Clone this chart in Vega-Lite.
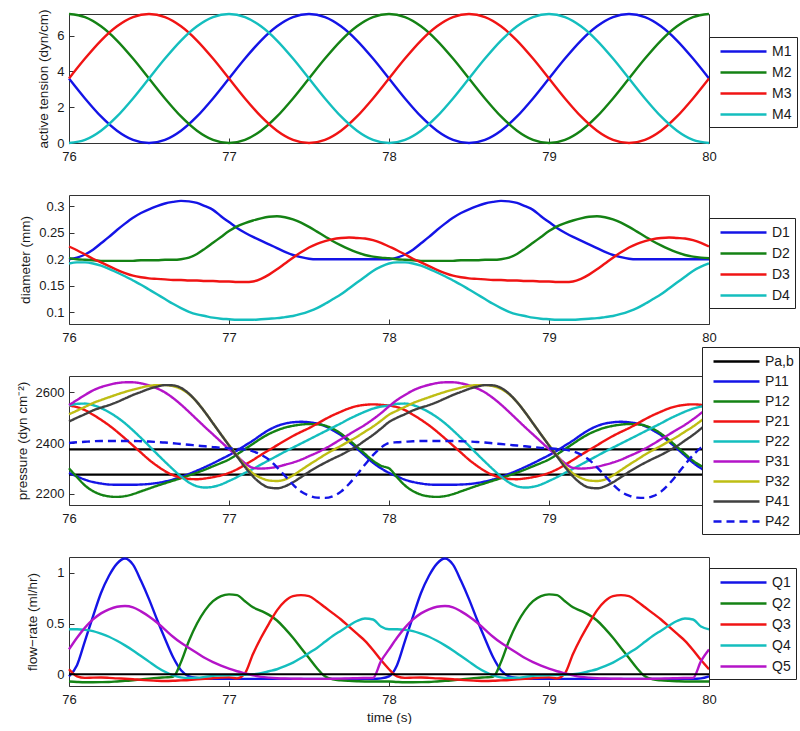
{
"$schema": "https://vega.github.io/schema/vega-lite/v6.json",
"padding": {"left": 14, "top": 8, "right": 0, "bottom": 0},
"background": "white",
"config": {
 "font": "Liberation Sans",
 "view": {"stroke": "#333", "strokeWidth": 1},
 "axis": {"grid": false, "domain": false, "tickSize": -5, "tickColor": "#333", "tickWidth": 1, "labelFontSize": 13, "titleFontSize": 13.5, "labelColor": "#1a1a1a", "titleColor": "#1a1a1a", "titleFontWeight": "normal", "labelFlush": false, "labelOverlap": false},
 "axisX": {"labelPadding": 12, "titlePadding": 4},
 "axisY": {"labelPadding": 10, "titlePadding": 6},
 "legend": {"orient": "none", "symbolType": "M-2.875,0H2.875", "symbolSize": 256, "symbolStrokeWidth": 2.4, "labelFontSize": 14, "labelColor": "#1a1a1a", "strokeColor": "#222", "fillColor": "white", "padding": 5, "rowPadding": 4, "symbolOffset": 20, "labelOffset": 19},
 "line": {"strokeWidth": 2.4, "interpolate": "monotone"}
},
"datasets": {
 "tension": [
{"t":76.0,"M1":3.6,"M2":7.2,"M3":3.6,"M4":0},
{"t":76.1,"M1":2.488,"M2":7.024,"M3":4.712,"M4":0.176},
{"t":76.2,"M1":1.483,"M2":6.512,"M3":5.717,"M4":0.688},
{"t":76.3,"M1":0.688,"M2":5.717,"M3":6.512,"M4":1.483},
{"t":76.4,"M1":0.176,"M2":4.712,"M3":7.024,"M4":2.488},
{"t":76.5,"M1":0,"M2":3.6,"M3":7.2,"M4":3.6},
{"t":76.6,"M1":0.176,"M2":2.488,"M3":7.024,"M4":4.712},
{"t":76.7,"M1":0.688,"M2":1.483,"M3":6.512,"M4":5.717},
{"t":76.8,"M1":1.483,"M2":0.688,"M3":5.717,"M4":6.512},
{"t":76.9,"M1":2.488,"M2":0.176,"M3":4.712,"M4":7.024},
{"t":77.0,"M1":3.6,"M2":0,"M3":3.6,"M4":7.2},
{"t":77.1,"M1":4.712,"M2":0.176,"M3":2.488,"M4":7.024},
{"t":77.2,"M1":5.717,"M2":0.688,"M3":1.483,"M4":6.512},
{"t":77.3,"M1":6.512,"M2":1.483,"M3":0.688,"M4":5.717},
{"t":77.4,"M1":7.024,"M2":2.488,"M3":0.176,"M4":4.712},
{"t":77.5,"M1":7.2,"M2":3.6,"M3":0,"M4":3.6},
{"t":77.6,"M1":7.024,"M2":4.712,"M3":0.176,"M4":2.488},
{"t":77.7,"M1":6.512,"M2":5.717,"M3":0.688,"M4":1.483},
{"t":77.8,"M1":5.717,"M2":6.512,"M3":1.483,"M4":0.688},
{"t":77.9,"M1":4.712,"M2":7.024,"M3":2.488,"M4":0.176},
{"t":78.0,"M1":3.6,"M2":7.2,"M3":3.6,"M4":0},
{"t":78.1,"M1":2.488,"M2":7.024,"M3":4.712,"M4":0.176},
{"t":78.2,"M1":1.483,"M2":6.512,"M3":5.717,"M4":0.688},
{"t":78.3,"M1":0.688,"M2":5.717,"M3":6.512,"M4":1.483},
{"t":78.4,"M1":0.176,"M2":4.712,"M3":7.024,"M4":2.488},
{"t":78.5,"M1":0,"M2":3.6,"M3":7.2,"M4":3.6},
{"t":78.6,"M1":0.176,"M2":2.488,"M3":7.024,"M4":4.712},
{"t":78.7,"M1":0.688,"M2":1.483,"M3":6.512,"M4":5.717},
{"t":78.8,"M1":1.483,"M2":0.688,"M3":5.717,"M4":6.512},
{"t":78.9,"M1":2.488,"M2":0.176,"M3":4.712,"M4":7.024},
{"t":79.0,"M1":3.6,"M2":0,"M3":3.6,"M4":7.2},
{"t":79.1,"M1":4.712,"M2":0.176,"M3":2.488,"M4":7.024},
{"t":79.2,"M1":5.717,"M2":0.688,"M3":1.483,"M4":6.512},
{"t":79.3,"M1":6.512,"M2":1.483,"M3":0.688,"M4":5.717},
{"t":79.4,"M1":7.024,"M2":2.488,"M3":0.176,"M4":4.712},
{"t":79.5,"M1":7.2,"M2":3.6,"M3":0,"M4":3.6},
{"t":79.6,"M1":7.024,"M2":4.712,"M3":0.176,"M4":2.488},
{"t":79.7,"M1":6.512,"M2":5.717,"M3":0.688,"M4":1.483},
{"t":79.8,"M1":5.717,"M2":6.512,"M3":1.483,"M4":0.688},
{"t":79.9,"M1":4.712,"M2":7.024,"M3":2.488,"M4":0.176},
{"t":80.0,"M1":3.6,"M2":7.2,"M3":3.6,"M4":0}
 ],
 "diam": [
{"t":76.00,"D1":0.200,"D2":0.202,"D3":0.224,"D4":0.192},
{"t":76.05,"D1":0.203,"D2":0.200,"D3":0.217,"D4":0.194},
{"t":76.10,"D1":0.209,"D2":0.199,"D3":0.209,"D4":0.194},
{"t":76.15,"D1":0.218,"D2":0.198,"D3":0.201,"D4":0.192},
{"t":76.20,"D1":0.230,"D2":0.197,"D3":0.194,"D4":0.188},
{"t":76.25,"D1":0.242,"D2":0.197,"D3":0.187,"D4":0.182},
{"t":76.30,"D1":0.255,"D2":0.197,"D3":0.180,"D4":0.175},
{"t":76.35,"D1":0.267,"D2":0.197,"D3":0.174,"D4":0.168},
{"t":76.40,"D1":0.278,"D2":0.197,"D3":0.169,"D4":0.160},
{"t":76.45,"D1":0.287,"D2":0.198,"D3":0.166,"D4":0.152},
{"t":76.50,"D1":0.294,"D2":0.198,"D3":0.164,"D4":0.143},
{"t":76.55,"D1":0.300,"D2":0.198,"D3":0.163,"D4":0.134},
{"t":76.60,"D1":0.305,"D2":0.199,"D3":0.162,"D4":0.125},
{"t":76.65,"D1":0.308,"D2":0.199,"D3":0.161,"D4":0.116},
{"t":76.70,"D1":0.310,"D2":0.200,"D3":0.161,"D4":0.108},
{"t":76.75,"D1":0.309,"D2":0.203,"D3":0.160,"D4":0.101},
{"t":76.80,"D1":0.306,"D2":0.210,"D3":0.160,"D4":0.096},
{"t":76.85,"D1":0.300,"D2":0.220,"D3":0.159,"D4":0.093},
{"t":76.90,"D1":0.293,"D2":0.231,"D3":0.159,"D4":0.090},
{"t":76.95,"D1":0.281,"D2":0.242,"D3":0.158,"D4":0.088},
{"t":77.00,"D1":0.270,"D2":0.253,"D3":0.158,"D4":0.087},
{"t":77.05,"D1":0.259,"D2":0.262,"D3":0.157,"D4":0.086},
{"t":77.10,"D1":0.250,"D2":0.268,"D3":0.157,"D4":0.086},
{"t":77.15,"D1":0.242,"D2":0.273,"D3":0.158,"D4":0.086},
{"t":77.20,"D1":0.235,"D2":0.277,"D3":0.163,"D4":0.087},
{"t":77.25,"D1":0.228,"D2":0.280,"D3":0.171,"D4":0.088},
{"t":77.30,"D1":0.221,"D2":0.281,"D3":0.181,"D4":0.089},
{"t":77.35,"D1":0.214,"D2":0.279,"D3":0.192,"D4":0.091},
{"t":77.40,"D1":0.208,"D2":0.275,"D3":0.203,"D4":0.093},
{"t":77.45,"D1":0.204,"D2":0.269,"D3":0.213,"D4":0.097},
{"t":77.50,"D1":0.201,"D2":0.261,"D3":0.222,"D4":0.102},
{"t":77.55,"D1":0.200,"D2":0.252,"D3":0.229,"D4":0.108},
{"t":77.60,"D1":0.200,"D2":0.243,"D3":0.234,"D4":0.116},
{"t":77.65,"D1":0.200,"D2":0.234,"D3":0.238,"D4":0.125},
{"t":77.70,"D1":0.200,"D2":0.226,"D3":0.240,"D4":0.134},
{"t":77.75,"D1":0.200,"D2":0.219,"D3":0.241,"D4":0.145},
{"t":77.80,"D1":0.200,"D2":0.213,"D3":0.240,"D4":0.156},
{"t":77.85,"D1":0.200,"D2":0.208,"D3":0.239,"D4":0.167},
{"t":77.90,"D1":0.200,"D2":0.205,"D3":0.236,"D4":0.178},
{"t":77.95,"D1":0.200,"D2":0.203,"D3":0.231,"D4":0.186},
{"t":78.00,"D1":0.200,"D2":0.202,"D3":0.224,"D4":0.192},
{"t":78.05,"D1":0.203,"D2":0.200,"D3":0.217,"D4":0.194},
{"t":78.10,"D1":0.209,"D2":0.199,"D3":0.209,"D4":0.194},
{"t":78.15,"D1":0.218,"D2":0.198,"D3":0.201,"D4":0.192},
{"t":78.20,"D1":0.230,"D2":0.197,"D3":0.194,"D4":0.188},
{"t":78.25,"D1":0.242,"D2":0.197,"D3":0.187,"D4":0.182},
{"t":78.30,"D1":0.255,"D2":0.197,"D3":0.180,"D4":0.175},
{"t":78.35,"D1":0.267,"D2":0.197,"D3":0.174,"D4":0.168},
{"t":78.40,"D1":0.278,"D2":0.197,"D3":0.169,"D4":0.160},
{"t":78.45,"D1":0.287,"D2":0.198,"D3":0.166,"D4":0.152},
{"t":78.50,"D1":0.294,"D2":0.198,"D3":0.164,"D4":0.143},
{"t":78.55,"D1":0.300,"D2":0.198,"D3":0.163,"D4":0.134},
{"t":78.60,"D1":0.305,"D2":0.199,"D3":0.162,"D4":0.125},
{"t":78.65,"D1":0.308,"D2":0.199,"D3":0.161,"D4":0.116},
{"t":78.70,"D1":0.310,"D2":0.200,"D3":0.161,"D4":0.108},
{"t":78.75,"D1":0.309,"D2":0.203,"D3":0.160,"D4":0.101},
{"t":78.80,"D1":0.306,"D2":0.210,"D3":0.160,"D4":0.096},
{"t":78.85,"D1":0.300,"D2":0.220,"D3":0.159,"D4":0.093},
{"t":78.90,"D1":0.293,"D2":0.231,"D3":0.159,"D4":0.090},
{"t":78.95,"D1":0.281,"D2":0.242,"D3":0.158,"D4":0.088},
{"t":79.00,"D1":0.270,"D2":0.253,"D3":0.158,"D4":0.087},
{"t":79.05,"D1":0.259,"D2":0.262,"D3":0.157,"D4":0.086},
{"t":79.10,"D1":0.250,"D2":0.268,"D3":0.157,"D4":0.086},
{"t":79.15,"D1":0.242,"D2":0.273,"D3":0.158,"D4":0.086},
{"t":79.20,"D1":0.235,"D2":0.277,"D3":0.163,"D4":0.087},
{"t":79.25,"D1":0.228,"D2":0.280,"D3":0.171,"D4":0.088},
{"t":79.30,"D1":0.221,"D2":0.281,"D3":0.181,"D4":0.089},
{"t":79.35,"D1":0.214,"D2":0.279,"D3":0.192,"D4":0.091},
{"t":79.40,"D1":0.208,"D2":0.275,"D3":0.203,"D4":0.093},
{"t":79.45,"D1":0.204,"D2":0.269,"D3":0.213,"D4":0.097},
{"t":79.50,"D1":0.201,"D2":0.261,"D3":0.222,"D4":0.102},
{"t":79.55,"D1":0.200,"D2":0.252,"D3":0.229,"D4":0.108},
{"t":79.60,"D1":0.200,"D2":0.243,"D3":0.234,"D4":0.116},
{"t":79.65,"D1":0.200,"D2":0.234,"D3":0.238,"D4":0.125},
{"t":79.70,"D1":0.200,"D2":0.226,"D3":0.240,"D4":0.134},
{"t":79.75,"D1":0.200,"D2":0.219,"D3":0.241,"D4":0.145},
{"t":79.80,"D1":0.200,"D2":0.213,"D3":0.240,"D4":0.156},
{"t":79.85,"D1":0.200,"D2":0.208,"D3":0.239,"D4":0.167},
{"t":79.90,"D1":0.200,"D2":0.205,"D3":0.236,"D4":0.178},
{"t":79.95,"D1":0.200,"D2":0.203,"D3":0.231,"D4":0.186},
{"t":80.00,"D1":0.200,"D2":0.202,"D3":0.224,"D4":0.192}
 ],
 "pab": [{"series":"Pa,b","val":2375},{"series":"Pa,b","val":2275}],
 "pressure": [
{"t":76.00,"P11":2282,"P12":2300,"P21":2548,"P22":2548,"P31":2550,"P32":2514,"P41":2485,"P42":2400},
{"t":76.05,"P11":2268,"P12":2265,"P21":2542,"P22":2555,"P31":2570,"P32":2528,"P41":2500,"P42":2403},
{"t":76.10,"P11":2255,"P12":2232,"P21":2530,"P22":2556,"P31":2590,"P32":2543,"P41":2514,"P42":2405},
{"t":76.15,"P11":2246,"P12":2210,"P21":2512,"P22":2550,"P31":2608,"P32":2558,"P41":2529,"P42":2407},
{"t":76.20,"P11":2240,"P12":2196,"P21":2492,"P22":2538,"P31":2621,"P32":2570,"P41":2540,"P42":2408},
{"t":76.25,"P11":2236,"P12":2189,"P21":2470,"P22":2522,"P31":2630,"P32":2581,"P41":2550,"P42":2408},
{"t":76.30,"P11":2235,"P12":2187,"P21":2445,"P22":2502,"P31":2637,"P32":2592,"P41":2562,"P42":2408},
{"t":76.35,"P11":2235,"P12":2190,"P21":2418,"P22":2478,"P31":2640,"P32":2602,"P41":2576,"P42":2408},
{"t":76.40,"P11":2235,"P12":2198,"P21":2390,"P22":2450,"P31":2640,"P32":2611,"P41":2590,"P42":2408},
{"t":76.45,"P11":2236,"P12":2209,"P21":2362,"P22":2420,"P31":2636,"P32":2619,"P41":2602,"P42":2407},
{"t":76.50,"P11":2238,"P12":2220,"P21":2334,"P22":2389,"P31":2628,"P32":2626,"P41":2614,"P42":2406},
{"t":76.55,"P11":2242,"P12":2231,"P21":2310,"P22":2357,"P31":2616,"P32":2629,"P41":2623,"P42":2404},
{"t":76.60,"P11":2248,"P12":2241,"P21":2289,"P22":2326,"P31":2600,"P32":2629,"P41":2629,"P42":2402},
{"t":76.65,"P11":2256,"P12":2251,"P21":2273,"P22":2296,"P31":2578,"P32":2625,"P41":2628,"P42":2399},
{"t":76.70,"P11":2266,"P12":2261,"P21":2263,"P22":2268,"P31":2552,"P32":2614,"P41":2618,"P42":2396},
{"t":76.75,"P11":2278,"P12":2272,"P21":2258,"P22":2244,"P31":2523,"P32":2593,"P41":2595,"P42":2393},
{"t":76.80,"P11":2291,"P12":2283,"P21":2257,"P22":2229,"P31":2493,"P32":2562,"P41":2562,"P42":2390},
{"t":76.85,"P11":2305,"P12":2295,"P21":2260,"P22":2224,"P31":2463,"P32":2522,"P41":2522,"P42":2387},
{"t":76.90,"P11":2320,"P12":2308,"P21":2265,"P22":2227,"P31":2434,"P32":2478,"P41":2478,"P42":2384},
{"t":76.95,"P11":2336,"P12":2321,"P21":2272,"P22":2236,"P31":2405,"P32":2434,"P41":2434,"P42":2381},
{"t":77.00,"P11":2352,"P12":2335,"P21":2282,"P22":2250,"P31":2376,"P32":2392,"P41":2390,"P42":2379},
{"t":77.05,"P11":2370,"P12":2355,"P21":2296,"P22":2265,"P31":2349,"P32":2350,"P41":2347,"P42":2377},
{"t":77.10,"P11":2390,"P12":2376,"P21":2314,"P22":2282,"P31":2320,"P32":2310,"P41":2305,"P42":2374},
{"t":77.15,"P11":2410,"P12":2397,"P21":2333,"P22":2298,"P31":2302,"P32":2280,"P41":2268,"P42":2367},
{"t":77.20,"P11":2432,"P12":2418,"P21":2353,"P22":2315,"P31":2299,"P32":2262,"P41":2240,"P42":2354},
{"t":77.25,"P11":2452,"P12":2436,"P21":2372,"P22":2332,"P31":2301,"P32":2252,"P41":2224,"P42":2334},
{"t":77.30,"P11":2467,"P12":2450,"P21":2391,"P22":2349,"P31":2306,"P32":2250,"P41":2221,"P42":2304},
{"t":77.35,"P11":2477,"P12":2461,"P21":2410,"P22":2366,"P31":2314,"P32":2256,"P41":2229,"P42":2270},
{"t":77.40,"P11":2482,"P12":2468,"P21":2428,"P22":2382,"P31":2323,"P32":2272,"P41":2245,"P42":2236},
{"t":77.45,"P11":2484,"P12":2473,"P21":2444,"P22":2398,"P31":2334,"P32":2293,"P41":2265,"P42":2208},
{"t":77.50,"P11":2482,"P12":2475,"P21":2459,"P22":2414,"P31":2348,"P32":2314,"P41":2286,"P42":2192},
{"t":77.55,"P11":2477,"P12":2474,"P21":2476,"P22":2430,"P31":2362,"P32":2334,"P41":2305,"P42":2184},
{"t":77.60,"P11":2467,"P12":2469,"P21":2494,"P22":2446,"P31":2378,"P32":2354,"P41":2322,"P42":2183},
{"t":77.65,"P11":2450,"P12":2456,"P21":2510,"P22":2462,"P31":2396,"P32":2372,"P41":2338,"P42":2190},
{"t":77.70,"P11":2431,"P12":2437,"P21":2524,"P22":2478,"P31":2415,"P32":2389,"P41":2353,"P42":2208},
{"t":77.75,"P11":2405,"P12":2412,"P21":2537,"P22":2495,"P31":2434,"P32":2407,"P41":2370,"P42":2238},
{"t":77.80,"P11":2378,"P12":2385,"P21":2546,"P22":2510,"P31":2453,"P32":2425,"P41":2388,"P42":2275},
{"t":77.85,"P11":2350,"P12":2357,"P21":2551,"P22":2524,"P31":2472,"P32":2445,"P41":2410,"P42":2315},
{"t":77.90,"P11":2322,"P12":2330,"P21":2553,"P22":2536,"P31":2494,"P32":2465,"P41":2432,"P42":2352},
{"t":77.95,"P11":2300,"P12":2310,"P21":2551,"P22":2544,"P31":2518,"P32":2488,"P41":2457,"P42":2382},
{"t":78.00,"P11":2282,"P12":2300,"P21":2548,"P22":2548,"P31":2545,"P32":2512,"P41":2483,"P42":2400},
{"t":78.05,"P11":2268,"P12":2265,"P21":2542,"P22":2555,"P31":2570,"P32":2528,"P41":2500,"P42":2403},
{"t":78.10,"P11":2255,"P12":2232,"P21":2530,"P22":2556,"P31":2590,"P32":2543,"P41":2514,"P42":2405},
{"t":78.15,"P11":2246,"P12":2210,"P21":2512,"P22":2550,"P31":2608,"P32":2558,"P41":2529,"P42":2407},
{"t":78.20,"P11":2240,"P12":2196,"P21":2492,"P22":2538,"P31":2621,"P32":2570,"P41":2540,"P42":2408},
{"t":78.25,"P11":2236,"P12":2189,"P21":2470,"P22":2522,"P31":2630,"P32":2581,"P41":2550,"P42":2408},
{"t":78.30,"P11":2235,"P12":2187,"P21":2445,"P22":2502,"P31":2637,"P32":2592,"P41":2562,"P42":2408},
{"t":78.35,"P11":2235,"P12":2190,"P21":2418,"P22":2478,"P31":2640,"P32":2602,"P41":2576,"P42":2408},
{"t":78.40,"P11":2235,"P12":2198,"P21":2390,"P22":2450,"P31":2640,"P32":2611,"P41":2590,"P42":2408},
{"t":78.45,"P11":2236,"P12":2209,"P21":2362,"P22":2420,"P31":2636,"P32":2619,"P41":2602,"P42":2407},
{"t":78.50,"P11":2238,"P12":2220,"P21":2334,"P22":2389,"P31":2628,"P32":2626,"P41":2614,"P42":2406},
{"t":78.55,"P11":2242,"P12":2231,"P21":2310,"P22":2357,"P31":2616,"P32":2629,"P41":2623,"P42":2404},
{"t":78.60,"P11":2248,"P12":2241,"P21":2289,"P22":2326,"P31":2600,"P32":2629,"P41":2629,"P42":2402},
{"t":78.65,"P11":2256,"P12":2251,"P21":2273,"P22":2296,"P31":2578,"P32":2625,"P41":2628,"P42":2399},
{"t":78.70,"P11":2266,"P12":2261,"P21":2263,"P22":2268,"P31":2552,"P32":2614,"P41":2618,"P42":2396},
{"t":78.75,"P11":2278,"P12":2272,"P21":2258,"P22":2244,"P31":2523,"P32":2593,"P41":2595,"P42":2393},
{"t":78.80,"P11":2291,"P12":2283,"P21":2257,"P22":2229,"P31":2493,"P32":2562,"P41":2562,"P42":2390},
{"t":78.85,"P11":2305,"P12":2295,"P21":2260,"P22":2224,"P31":2463,"P32":2522,"P41":2522,"P42":2387},
{"t":78.90,"P11":2320,"P12":2308,"P21":2265,"P22":2227,"P31":2434,"P32":2478,"P41":2478,"P42":2384},
{"t":78.95,"P11":2336,"P12":2321,"P21":2272,"P22":2236,"P31":2405,"P32":2434,"P41":2434,"P42":2381},
{"t":79.00,"P11":2352,"P12":2335,"P21":2282,"P22":2250,"P31":2376,"P32":2392,"P41":2390,"P42":2379},
{"t":79.05,"P11":2370,"P12":2355,"P21":2296,"P22":2265,"P31":2349,"P32":2350,"P41":2347,"P42":2377},
{"t":79.10,"P11":2390,"P12":2376,"P21":2314,"P22":2282,"P31":2320,"P32":2310,"P41":2305,"P42":2374},
{"t":79.15,"P11":2410,"P12":2397,"P21":2333,"P22":2298,"P31":2302,"P32":2280,"P41":2268,"P42":2367},
{"t":79.20,"P11":2432,"P12":2418,"P21":2353,"P22":2315,"P31":2299,"P32":2262,"P41":2240,"P42":2354},
{"t":79.25,"P11":2452,"P12":2436,"P21":2372,"P22":2332,"P31":2301,"P32":2252,"P41":2224,"P42":2334},
{"t":79.30,"P11":2467,"P12":2450,"P21":2391,"P22":2349,"P31":2306,"P32":2250,"P41":2221,"P42":2304},
{"t":79.35,"P11":2477,"P12":2461,"P21":2410,"P22":2366,"P31":2314,"P32":2256,"P41":2229,"P42":2270},
{"t":79.40,"P11":2482,"P12":2468,"P21":2428,"P22":2382,"P31":2323,"P32":2272,"P41":2245,"P42":2236},
{"t":79.45,"P11":2484,"P12":2473,"P21":2444,"P22":2398,"P31":2334,"P32":2293,"P41":2265,"P42":2208},
{"t":79.50,"P11":2482,"P12":2475,"P21":2459,"P22":2414,"P31":2348,"P32":2314,"P41":2286,"P42":2192},
{"t":79.55,"P11":2477,"P12":2474,"P21":2476,"P22":2430,"P31":2362,"P32":2334,"P41":2305,"P42":2184},
{"t":79.60,"P11":2467,"P12":2469,"P21":2494,"P22":2446,"P31":2378,"P32":2354,"P41":2322,"P42":2183},
{"t":79.65,"P11":2450,"P12":2456,"P21":2510,"P22":2462,"P31":2396,"P32":2372,"P41":2338,"P42":2190},
{"t":79.70,"P11":2431,"P12":2437,"P21":2524,"P22":2478,"P31":2415,"P32":2389,"P41":2353,"P42":2208},
{"t":79.75,"P11":2405,"P12":2412,"P21":2537,"P22":2495,"P31":2434,"P32":2407,"P41":2370,"P42":2238},
{"t":79.80,"P11":2378,"P12":2385,"P21":2546,"P22":2510,"P31":2453,"P32":2425,"P41":2388,"P42":2275},
{"t":79.85,"P11":2350,"P12":2357,"P21":2551,"P22":2524,"P31":2472,"P32":2445,"P41":2410,"P42":2315},
{"t":79.90,"P11":2322,"P12":2330,"P21":2553,"P22":2536,"P31":2494,"P32":2465,"P41":2432,"P42":2352},
{"t":79.95,"P11":2300,"P12":2310,"P21":2551,"P22":2544,"P31":2518,"P32":2488,"P41":2457,"P42":2382},
{"t":80.00,"P11":2282,"P12":2300,"P21":2548,"P22":2548,"P31":2545,"P32":2512,"P41":2483,"P42":2400}
 ],
 "zero": [{"z": 0}],
 "flow": [
{"t":76.00,"Q1":-0.02,"Q2":-0.07,"Q3":0.05,"Q4":0.443,"Q5":0.245},
{"t":76.05,"Q1":0.09,"Q2":-0.075,"Q3":-0.02,"Q4":0.443,"Q5":0.36},
{"t":76.10,"Q1":0.33,"Q2":-0.078,"Q3":-0.035,"Q4":0.438,"Q5":0.46},
{"t":76.15,"Q1":0.57,"Q2":-0.078,"Q3":-0.033,"Q4":0.425,"Q5":0.54},
{"t":76.20,"Q1":0.80,"Q2":-0.077,"Q3":-0.032,"Q4":0.40,"Q5":0.60},
{"t":76.25,"Q1":0.97,"Q2":-0.075,"Q3":-0.035,"Q4":0.37,"Q5":0.64},
{"t":76.30,"Q1":1.09,"Q2":-0.07,"Q3":-0.04,"Q4":0.33,"Q5":0.665},
{"t":76.35,"Q1":1.14,"Q2":-0.065,"Q3":-0.043,"Q4":0.285,"Q5":0.672},
{"t":76.40,"Q1":1.08,"Q2":-0.058,"Q3":-0.048,"Q4":0.235,"Q5":0.66},
{"t":76.45,"Q1":0.92,"Q2":-0.05,"Q3":-0.055,"Q4":0.18,"Q5":0.62},
{"t":76.50,"Q1":0.74,"Q2":-0.042,"Q3":-0.06,"Q4":0.125,"Q5":0.57},
{"t":76.55,"Q1":0.54,"Q2":-0.035,"Q3":-0.064,"Q4":0.07,"Q5":0.51},
{"t":76.60,"Q1":0.35,"Q2":-0.03,"Q3":-0.066,"Q4":0.025,"Q5":0.44},
{"t":76.65,"Q1":0.17,"Q2":-0.025,"Q3":-0.064,"Q4":-0.01,"Q5":0.37},
{"t":76.70,"Q1":0.04,"Q2":0.12,"Q3":-0.06,"Q4":-0.03,"Q5":0.31},
{"t":76.75,"Q1":-0.02,"Q2":0.33,"Q3":-0.056,"Q4":-0.035,"Q5":0.26},
{"t":76.80,"Q1":-0.035,"Q2":0.50,"Q3":-0.05,"Q4":-0.033,"Q5":0.21},
{"t":76.85,"Q1":-0.04,"Q2":0.63,"Q3":-0.044,"Q4":-0.025,"Q5":0.16},
{"t":76.90,"Q1":-0.045,"Q2":0.72,"Q3":-0.038,"Q4":-0.015,"Q5":0.12},
{"t":76.95,"Q1":-0.045,"Q2":0.77,"Q3":-0.033,"Q4":-0.01,"Q5":0.085},
{"t":77.00,"Q1":-0.045,"Q2":0.787,"Q3":-0.03,"Q4":-0.008,"Q5":0.055},
{"t":77.05,"Q1":-0.045,"Q2":0.78,"Q3":-0.04,"Q4":-0.006,"Q5":0.03},
{"t":77.10,"Q1":-0.045,"Q2":0.72,"Q3":0.01,"Q4":-0.005,"Q5":0.01},
{"t":77.15,"Q1":-0.045,"Q2":0.66,"Q3":0.2,"Q4":0.0,"Q5":-0.01},
{"t":77.20,"Q1":-0.045,"Q2":0.625,"Q3":0.36,"Q4":0.01,"Q5":-0.025},
{"t":77.25,"Q1":-0.045,"Q2":0.585,"Q3":0.5,"Q4":0.03,"Q5":-0.033},
{"t":77.30,"Q1":-0.045,"Q2":0.53,"Q3":0.63,"Q4":0.05,"Q5":-0.038},
{"t":77.35,"Q1":-0.045,"Q2":0.45,"Q3":0.72,"Q4":0.08,"Q5":-0.041},
{"t":77.40,"Q1":-0.045,"Q2":0.36,"Q3":0.77,"Q4":0.115,"Q5":-0.043},
{"t":77.45,"Q1":-0.045,"Q2":0.26,"Q3":0.78,"Q4":0.16,"Q5":-0.044},
{"t":77.50,"Q1":-0.045,"Q2":0.16,"Q3":0.77,"Q4":0.21,"Q5":-0.045},
{"t":77.55,"Q1":-0.045,"Q2":0.06,"Q3":0.72,"Q4":0.26,"Q5":-0.045},
{"t":77.60,"Q1":-0.045,"Q2":-0.02,"Q3":0.66,"Q4":0.32,"Q5":-0.045},
{"t":77.65,"Q1":-0.045,"Q2":-0.05,"Q3":0.60,"Q4":0.38,"Q5":-0.044},
{"t":77.70,"Q1":-0.045,"Q2":-0.06,"Q3":0.54,"Q4":0.43,"Q5":-0.042},
{"t":77.75,"Q1":-0.045,"Q2":-0.065,"Q3":0.47,"Q4":0.48,"Q5":-0.04},
{"t":77.80,"Q1":-0.045,"Q2":-0.068,"Q3":0.40,"Q4":0.525,"Q5":-0.038},
{"t":77.85,"Q1":-0.045,"Q2":-0.07,"Q3":0.33,"Q4":0.55,"Q5":-0.036},
{"t":77.90,"Q1":-0.045,"Q2":-0.07,"Q3":0.24,"Q4":0.54,"Q5":-0.035},
{"t":77.95,"Q1":-0.04,"Q2":-0.07,"Q3":0.14,"Q4":0.47,"Q5":0.13},
{"t":78.00,"Q1":-0.02,"Q2":-0.07,"Q3":0.05,"Q4":0.443,"Q5":0.245},
{"t":78.05,"Q1":0.09,"Q2":-0.075,"Q3":-0.02,"Q4":0.443,"Q5":0.36},
{"t":78.10,"Q1":0.33,"Q2":-0.078,"Q3":-0.035,"Q4":0.438,"Q5":0.46},
{"t":78.15,"Q1":0.57,"Q2":-0.078,"Q3":-0.033,"Q4":0.425,"Q5":0.54},
{"t":78.20,"Q1":0.80,"Q2":-0.077,"Q3":-0.032,"Q4":0.40,"Q5":0.60},
{"t":78.25,"Q1":0.97,"Q2":-0.075,"Q3":-0.035,"Q4":0.37,"Q5":0.64},
{"t":78.30,"Q1":1.09,"Q2":-0.07,"Q3":-0.04,"Q4":0.33,"Q5":0.665},
{"t":78.35,"Q1":1.14,"Q2":-0.065,"Q3":-0.043,"Q4":0.285,"Q5":0.672},
{"t":78.40,"Q1":1.08,"Q2":-0.058,"Q3":-0.048,"Q4":0.235,"Q5":0.66},
{"t":78.45,"Q1":0.92,"Q2":-0.05,"Q3":-0.055,"Q4":0.18,"Q5":0.62},
{"t":78.50,"Q1":0.74,"Q2":-0.042,"Q3":-0.06,"Q4":0.125,"Q5":0.57},
{"t":78.55,"Q1":0.54,"Q2":-0.035,"Q3":-0.064,"Q4":0.07,"Q5":0.51},
{"t":78.60,"Q1":0.35,"Q2":-0.03,"Q3":-0.066,"Q4":0.025,"Q5":0.44},
{"t":78.65,"Q1":0.17,"Q2":-0.025,"Q3":-0.064,"Q4":-0.01,"Q5":0.37},
{"t":78.70,"Q1":0.04,"Q2":0.12,"Q3":-0.06,"Q4":-0.03,"Q5":0.31},
{"t":78.75,"Q1":-0.02,"Q2":0.33,"Q3":-0.056,"Q4":-0.035,"Q5":0.26},
{"t":78.80,"Q1":-0.035,"Q2":0.50,"Q3":-0.05,"Q4":-0.033,"Q5":0.21},
{"t":78.85,"Q1":-0.04,"Q2":0.63,"Q3":-0.044,"Q4":-0.025,"Q5":0.16},
{"t":78.90,"Q1":-0.045,"Q2":0.72,"Q3":-0.038,"Q4":-0.015,"Q5":0.12},
{"t":78.95,"Q1":-0.045,"Q2":0.77,"Q3":-0.033,"Q4":-0.01,"Q5":0.085},
{"t":79.00,"Q1":-0.045,"Q2":0.787,"Q3":-0.03,"Q4":-0.008,"Q5":0.055},
{"t":79.05,"Q1":-0.045,"Q2":0.78,"Q3":-0.04,"Q4":-0.006,"Q5":0.03},
{"t":79.10,"Q1":-0.045,"Q2":0.72,"Q3":0.01,"Q4":-0.005,"Q5":0.01},
{"t":79.15,"Q1":-0.045,"Q2":0.66,"Q3":0.2,"Q4":0.0,"Q5":-0.01},
{"t":79.20,"Q1":-0.045,"Q2":0.625,"Q3":0.36,"Q4":0.01,"Q5":-0.025},
{"t":79.25,"Q1":-0.045,"Q2":0.585,"Q3":0.5,"Q4":0.03,"Q5":-0.033},
{"t":79.30,"Q1":-0.045,"Q2":0.53,"Q3":0.63,"Q4":0.05,"Q5":-0.038},
{"t":79.35,"Q1":-0.045,"Q2":0.45,"Q3":0.72,"Q4":0.08,"Q5":-0.041},
{"t":79.40,"Q1":-0.045,"Q2":0.36,"Q3":0.77,"Q4":0.115,"Q5":-0.043},
{"t":79.45,"Q1":-0.045,"Q2":0.26,"Q3":0.78,"Q4":0.16,"Q5":-0.044},
{"t":79.50,"Q1":-0.045,"Q2":0.16,"Q3":0.77,"Q4":0.21,"Q5":-0.045},
{"t":79.55,"Q1":-0.045,"Q2":0.06,"Q3":0.72,"Q4":0.26,"Q5":-0.045},
{"t":79.60,"Q1":-0.045,"Q2":-0.02,"Q3":0.66,"Q4":0.32,"Q5":-0.045},
{"t":79.65,"Q1":-0.045,"Q2":-0.05,"Q3":0.60,"Q4":0.38,"Q5":-0.044},
{"t":79.70,"Q1":-0.045,"Q2":-0.06,"Q3":0.54,"Q4":0.43,"Q5":-0.042},
{"t":79.75,"Q1":-0.045,"Q2":-0.065,"Q3":0.47,"Q4":0.48,"Q5":-0.04},
{"t":79.80,"Q1":-0.045,"Q2":-0.068,"Q3":0.40,"Q4":0.525,"Q5":-0.038},
{"t":79.85,"Q1":-0.045,"Q2":-0.07,"Q3":0.33,"Q4":0.55,"Q5":-0.036},
{"t":79.90,"Q1":-0.045,"Q2":-0.07,"Q3":0.24,"Q4":0.54,"Q5":-0.035},
{"t":79.95,"Q1":-0.04,"Q2":-0.07,"Q3":0.14,"Q4":0.47,"Q5":0.13},
{"t":80.00,"Q1":-0.02,"Q2":-0.07,"Q3":0.05,"Q4":0.443,"Q5":0.245}
 ]
},
"vconcat": [
 {
  "width": 640, "height": 129,
  "data": {"name": "tension"},
  "transform": [{"fold": ["M1","M2","M3","M4"], "as": ["series","val"]}],
  "mark": {"type": "line"},
  "encoding": {
   "x": {"field": "t", "type": "quantitative", "scale": {"domain": [76,80], "nice": false, "zero": false}, "axis": {"values": [76,77,78,79,80], "format": "d", "title": null}},
   "y": {"field": "val", "type": "quantitative", "scale": {"domain": [0,7.2], "nice": false, "zero": false}, "axis": {"values": [0,2,4,6], "format": "d", "title": "active tension (dyn/cm)"}},
   "color": {"field": "series", "type": "nominal", "scale": {"domain": ["M1","M2","M3","M4"], "range": ["#1414e6","#148214","#f01414","#14bebe"]}, "legend": {"title": null, "legendX": 640, "legendY": 23}}
  }
 },
 {
  "width": 640, "height": 129,
  "data": {"name": "diam"},
  "transform": [{"fold": ["D1","D2","D3","D4"], "as": ["series","val"]}],
  "mark": {"type": "line"},
  "encoding": {
   "x": {"field": "t", "type": "quantitative", "scale": {"domain": [76,80], "nice": false, "zero": false}, "axis": {"values": [76,77,78,79,80], "format": "d", "title": null}},
   "y": {"field": "val", "type": "quantitative", "scale": {"domain": [0.078,0.321], "nice": false, "zero": false}, "axis": {"values": [0.1,0.15,0.2,0.25,0.3], "format": "~g", "title": "diameter (mm)"}},
   "color": {"field": "series", "type": "nominal", "scale": {"domain": ["D1","D2","D3","D4"], "range": ["#1414e6","#148214","#f01414","#14bebe"]}, "legend": {"title": null, "legendX": 640, "legendY": 23}}
  }
 },
 {
  "width": 640, "height": 129,
  "layer": [
   {
    "data": {"name": "pab"},
    "mark": {"type": "rule", "strokeWidth": 2.4},
    "encoding": {
     "y": {"field": "val", "type": "quantitative", "scale": {"domain": [2155,2665], "nice": false, "zero": false}, "axis": {"values": [2200,2300,2400,2500,2600], "format": "d", "title": "pressure (dyn cm⁻²)"}},
     "color": {"field": "series", "type": "nominal", "scale": {"domain": ["Pa,b","P11","P12","P21","P22","P31","P32","P41","P42"], "range": ["#000000","#1414e6","#148214","#f01414","#14bebe","#b414c8","#bebe14","#404040","#1414e6"]}, "legend": {"title": null, "legendX": 633, "legendY": -29, "rowPadding": 3}}
    }
   },
   {
    "data": {"name": "pressure"},
    "transform": [{"fold": ["P11","P12","P21","P22","P31","P32","P41","P42"], "as": ["series","val"]}],
    "mark": {"type": "line"},
    "encoding": {
     "x": {"field": "t", "type": "quantitative", "scale": {"domain": [76,80], "nice": false, "zero": false}, "axis": {"values": [76,77,78,79,80], "format": "d", "title": null}},
     "y": {"field": "val", "type": "quantitative", "scale": {"domain": [2155,2665], "nice": false, "zero": false}},
     "color": {"field": "series", "type": "nominal", "scale": {"domain": ["Pa,b","P11","P12","P21","P22","P31","P32","P41","P42"], "range": ["#000000","#1414e6","#148214","#f01414","#14bebe","#b414c8","#bebe14","#404040","#1414e6"]}, "legend": {"title": null, "legendX": 633, "legendY": -29, "rowPadding": 3}},
     "strokeDash": {"field": "series", "type": "nominal", "scale": {"domain": ["Pa,b","P11","P12","P21","P22","P31","P32","P41","P42"], "range": [[1,0],[1,0],[1,0],[1,0],[1,0],[1,0],[1,0],[1,0],[8,5]]}, "legend": {"title": null, "legendX": 633, "legendY": -29, "rowPadding": 3}}
    }
   }
  ]
 },
 {
  "width": 640, "height": 129,
  "layer": [
   {
    "data": {"name": "flow"},
    "transform": [{"fold": ["Q1","Q2","Q3","Q4","Q5"], "as": ["series","val"]}],
    "mark": {"type": "line"},
    "encoding": {
     "x": {"field": "t", "type": "quantitative", "scale": {"domain": [76,80], "nice": false, "zero": false}, "axis": {"values": [76,77,78,79,80], "format": "d", "title": "time (s)"}},
     "y": {"field": "val", "type": "quantitative", "scale": {"domain": [-0.115,1.155], "nice": false, "zero": false}, "axis": {"values": [0,0.5,1], "format": "~g", "title": "flow−rate (ml/hr)"}},
     "color": {"field": "series", "type": "nominal", "scale": {"domain": ["Q1","Q2","Q3","Q4","Q5"], "range": ["#1414e6","#148214","#f01414","#14bebe","#b414c8"]}, "legend": {"title": null, "legendX": 640, "legendY": 11}}
    }
   },
   {
    "data": {"name": "zero"},
    "mark": {"type": "rule", "color": "#000000", "strokeWidth": 2},
    "encoding": {
     "y": {"field": "z", "type": "quantitative", "scale": {"domain": [-0.115,1.155], "nice": false, "zero": false}}
    }
   }
  ]
 }
],
"spacing": 52,
"bounds": "flush",
"resolve": {"scale": {"x": "independent", "y": "independent", "color": "independent", "strokeDash": "independent"}}
}
